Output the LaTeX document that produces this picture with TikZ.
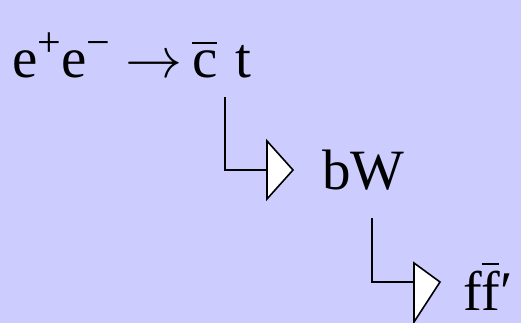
\RequirePackage{fix-cm}
\documentclass[tikz,border=0pt]{standalone}
\usepackage{fontspec}
\setmainfont{Liberation Serif}
\newcommand\barred[3]{\rlap{\raisebox{#1}{\rule{#2}{2.4pt}}}#3}
\newcommand\supr[1]{\raisebox{21pt}{\fontsize{42}{42}\selectfont #1}}
\begin{document}
\begin{tikzpicture}[x=1pt,y=-1pt,
  txt/.style={anchor=base west,inner sep=0pt,font=\fontsize{57}{57}\selectfont},
  wire/.style={line width=2.6pt},
  head/.style={draw=black,fill=white,line width=1.6pt,line join=miter}]
\fill[fill={rgb,255:red,204;green,204;blue,255}] (0,0) rectangle (521,323);
\useasboundingbox (0,0) rectangle (521,323);

% first line: e+e- -> cbar t
\node[txt] (ee) at (12,78) {e\supr{+}e\supr{−}};
\node[txt] (arr) at (125,78) {$\rightarrow$};
\node[txt] (cb) at (192,78) {\barred{34pt}{25pt}{c}};
\node[txt] (t) at (235,78) {t};

% first decay step
\coordinate (k1) at (225,97);
\coordinate (b1) at (267,170);
\draw[head] (267,141) -- (293,170) -- (267,199) -- cycle;
\draw[wire] (k1) |- (b1);
\node[txt] (bw) at (322,189) {bW};

% second decay step
\coordinate (k2) at (372,218);
\coordinate (b2) at (414,282);
\draw[head] (414,263) -- (440,282) -- (414,322) -- cycle;
\draw[wire] (k2) |- (b2);
\node[txt,font=\fontsize{56}{56}\selectfont] (ff) at (463,310) {f\barred{45pt}{17pt}{f}′};
\end{tikzpicture}
\end{document}
